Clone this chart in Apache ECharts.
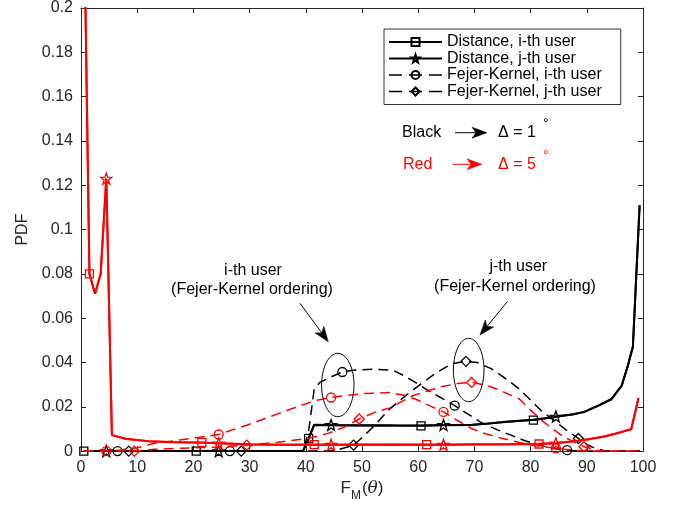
<!DOCTYPE html>
<html>
<head>
<meta charset="utf-8">
<script src="https://cdn.jsdelivr.net/npm/echarts@6/dist/echarts.min.js"></script>
<style>html,body{margin:0;padding:0;background:#fff}#c{width:681px;height:507px}</style>
</head>
<body>
<div id="c"></div>
<script>
// ---- data (x = F_M(theta), y = PDF) ----
const distI_black = [[0.5,0],[4.5,0],[20.5,0],[24.5,0],[39.5,0],[40.5,0.0057],[41.5,0.0118],[44.5,0.0117],[48,0.0116],[52,0.0117],[56,0.0115],[60.5,0.0114],[64.5,0.0117],[69.5,0.0118],[72.5,0.0124],[75.5,0.0132],[78.5,0.0137],[80.5,0.014],[82.5,0.0147],[84.5,0.0155],[87.5,0.0166],[89.5,0.0176],[92,0.0204],[94.4,0.0234],[96.2,0.0294],[97.3,0.0384],[98.2,0.047],[99.4,0.111]];
const distJ_black = [[0.5,0],[4.5,0],[20.5,0],[24.5,0],[39.5,0],[40.5,0.0057],[41.5,0.0119],[44.5,0.0118],[48,0.0117],[52,0.0116],[56,0.0116],[60.5,0.0115],[64.5,0.0118],[69.5,0.0119],[72.5,0.0125],[75.5,0.0131],[78.5,0.0138],[80.5,0.0141],[82.5,0.0148],[84.5,0.0156],[87.5,0.0165],[89.5,0.0177],[92,0.0205],[94.4,0.0236],[96.2,0.0296],[97.3,0.0386],[98.2,0.0472],[99.4,0.111]];
const fejI_black = [[0.5,0],[6.5,0],[26.5,0],[39.5,0],[40.5,0.009],[41.5,0.028],[42.5,0.031],[44.5,0.0335],[46.5,0.0357],[48.5,0.0365],[52,0.037],[55.5,0.0365],[57.5,0.034],[59.5,0.031],[62,0.027],[64.5,0.0235],[66.5,0.0205],[69,0.0165],[71,0.0132],[74,0.0097],[76.5,0.0072],[79,0.0047],[81.5,0.0027],[84,0.0012],[86.5,0.0004],[88.5,0],[99.5,0]];
const fejJ_black = [[0.5,0],[8.5,0],[28.5,0],[44,0],[46,0.0008],[48.5,0.0027],[50,0.006],[52,0.011],[55,0.0192],[58,0.0255],[60.5,0.0303],[63,0.035],[66,0.0395],[68.5,0.0405],[70.5,0.04],[73,0.0372],[76,0.032],[78,0.028],[80,0.023],[82,0.018],[84.5,0.0132],[86.5,0.0092],[88.5,0.0057],[90,0.003],[91.5,0.0012],[93,0.0003],[95,0],[99.5,0]];
const distI_red = [[0.5,0.25],[1.5,0.08],[2.5,0.071],[3.5,0.08],[4.5,0.123],[5.5,0.0072],[8,0.0055],[12,0.0045],[16,0.004],[21.5,0.0039],[24.5,0.0035],[30,0.003],[35,0.0029],[41.5,0.0029],[44.5,0.0029],[50,0.0029],[55,0.003],[61.5,0.0029],[64.5,0.0029],[70,0.003],[75,0.003],[81.5,0.0032],[84.5,0.0035],[88,0.0045],[90.5,0.0055],[93,0.0065],[95,0.0077],[97.9,0.0099],[99.2,0.024]];
const distJ_red = [[0.5,0.25],[1.5,0.08],[2.5,0.071],[3.5,0.08],[4.5,0.123],[5.5,0.0072],[8,0.0056],[12,0.0045],[16,0.0041],[21.5,0.0038],[24.5,0.0035],[30,0.0031],[35,0.0029],[41.5,0.003],[44.5,0.0029],[50,0.003],[55,0.0029],[61.5,0.003],[64.5,0.0029],[70,0.0031],[75,0.0031],[81.5,0.0033],[84.5,0.0035],[88,0.0046],[90.5,0.0054],[93,0.0066],[95,0.0078],[97.9,0.0099],[99.2,0.024]];
const fejI_red = [[0.5,0],[4.5,0],[7,0.0005],[10,0.0015],[13,0.0035],[17.5,0.005],[21,0.0062],[24.5,0.0075],[29.5,0.0117],[35,0.0168],[39,0.0205],[42,0.023],[44.5,0.0242],[47.5,0.0252],[50.5,0.026],[55,0.0264],[57.5,0.0252],[59.5,0.0235],[62,0.0205],[64.5,0.0177],[67,0.0138],[69.5,0.0102],[72,0.0078],[75,0.0057],[80,0.0027],[84.5,0.0012],[88,0.0003],[90,0],[99.5,0]];
const fejJ_red = [[0.5,0],[9.5,0],[13,0.0008],[18,0.0013],[24,0.0018],[29.5,0.0027],[35,0.004],[40.5,0.0058],[44,0.008],[47,0.011],[49.5,0.0145],[52.5,0.0177],[55,0.0195],[59,0.025],[64,0.029],[67,0.0305],[69.5,0.031],[72,0.0298],[74,0.028],[78,0.0235],[80,0.0185],[82.3,0.0132],[85.8,0.0065],[89.5,0.002],[92,0.0003],[94,0],[99.5,0]];
// marker positions (x)
const sqX_black = [0.5,20.5,40.5,60.5,80.5];
const starX_black = [4.5,24.5,44.5,64.5,84.5];
const circX_black = [6.5,26.5,46.5,66.5,86.5];
const diaX_black = [8.5,28.5,48.5,68.5,88.5];
const sqX_red = [1.5,21.5,41.5,61.5,81.5];
const starX_red = [4.5,24.5,44.5,64.5,84.5];
const circX_red = [4.5,24.5,44.5,64.5,84.5];
const diaX_red = [9.5,29.5,49.5,69.5,89.5];
const xTicks = [0,10,20,30,40,50,60,70,80,90,100];
const yTicks = [0,0.02,0.04,0.06,0.08,0.1,0.12,0.14,0.16,0.18,0.2];
const legendNames = ['Distance, i-th user','Distance, j-th user','Fejer-Kernel, i-th user','Fejer-Kernel, j-th user'];

const FONT = '"Liberation Sans", Arial, Helvetica, sans-serif';
const STAR = 'path://M0,-10L2.35,-3.24L9.51,-3.09L3.8,1.24L5.88,8.09L0,4L-5.88,8.09L-3.8,1.24L-9.51,-3.09L-2.35,-3.24Z';

function mk(points, marks, sym) {
  return points.map(p => ({ value: p, symbol: marks.indexOf(p[0]) >= 0 ? sym : 'none' }));
}
function ser(name, pts, marks, sym, size, color, dashed, z) {
  return {
    name: name, type: 'line', data: mk(pts, marks, sym), symbol: sym, symbolSize: size,
    showAllSymbol: true, xAxisIndex: 0, yAxisIndex: 0, z: z,
    lineStyle: { color: color, width: dashed ? 1.5 : 2, type: dashed ? [10, 6] : 'solid' },
    itemStyle: { color: 'rgba(255,255,255,0)', borderColor: color, borderWidth: 1.3 },
    emphasis: { disabled: true }, animation: false
  };
}

const chart = echarts.init(document.getElementById('c'), null, { renderer: 'canvas' });

function arrow(x1, y1, x2, y2, color) {
  const dx = x2 - x1, dy = y2 - y1, len = Math.hypot(dx, dy);
  const ux = dx / len, uy = dy / len, px = -uy, py = ux;
  const L = 15, W = 5.5, N = 4;
  const bx = x2 - L * ux, by = y2 - L * uy;
  const nx = x2 - (L - N) * ux, ny = y2 - (L - N) * uy;
  return [
    { type: 'line', shape: { x1: x1, y1: y1, x2: nx, y2: ny }, style: { stroke: color, lineWidth: 1 }, z: 100 },
    { type: 'polygon', shape: { points: [[x2, y2], [bx + W * px, by + W * py], [nx, ny], [bx - W * px, by - W * py]] }, style: { fill: color, stroke: color, lineWidth: 0.5 }, z: 100 }
  ];
}
function ellipse(cx, cy, rx, ry) {
  const pts = [];
  for (let i = 0; i < 72; i++) { const a = i / 72 * Math.PI * 2; pts.push([cx + rx * Math.cos(a), cy + ry * Math.sin(a)]); }
  return { type: 'polygon', shape: { points: pts }, style: { fill: 'none', stroke: '#000', lineWidth: 1 }, z: 100 };
}
function txt(x, y, s, size, color, align) {
  return { type: 'text', x: x, y: y, z: 100,
    style: { text: s, fill: color, font: size + 'px ' + FONT, fontSize: size, fontFamily: FONT,
      textAlign: align || 'left', align: align || 'left', textVerticalAlign: 'middle', verticalAlign: 'middle' } };
}

const graphics = [].concat(
  [txt(402, 132.7, 'Black', 16, '#000'), txt(498, 132.7, 'Δ = 1', 16, '#000'), txt(543, 124, '°', 14, '#000')],
  arrow(455, 132.7, 487, 132.7, '#000'),
  [txt(403, 164.3, 'Red', 16, '#ff0000'), txt(498, 164.3, 'Δ = 5', 16, '#ff0000'), txt(543, 155.7, '°', 14, '#ff0000')],
  arrow(452.7, 164.3, 482, 164.3, '#ff0000'),
  [txt(253, 270.7, 'i-th user', 16, '#000', 'center'), txt(252, 290, '(Fejer-Kernel ordering)', 16, '#000', 'center')],
  arrow(300, 303.3, 328.3, 341.7, '#000'),
  [txt(518.3, 266.7, 'j-th user', 16, '#000', 'center'), txt(515, 286.7, '(Fejer-Kernel ordering)', 16, '#000', 'center')],
  arrow(507.3, 301.7, 480, 335, '#000'),
  [ellipse(337.8, 385, 16.2, 31.7), ellipse(468.7, 370, 15.3, 31.7)]
);

const axisCol = '#262626';
const legendDash = { type: [13, 7], width: 1.5, color: '#000' };
const option = {
  animation: false,
  backgroundColor: '#fff',
  textStyle: { fontFamily: FONT },
  grid: { left: 81, right: 38, top: 8, bottom: 54, containLabel: false },
  legend: {
    data: [
      { name: legendNames[0] }, { name: legendNames[1] },
      { name: legendNames[2], lineStyle: legendDash }, { name: legendNames[3], lineStyle: legendDash }
    ],
    orient: 'vertical', left: 384, top: 29,
    itemWidth: 53, itemHeight: 10, itemGap: 0.5,
    padding: [5, 19, 5, 4], backgroundColor: '#fff', borderColor: '#000', borderWidth: 0.8,
    textStyle: { fontSize: 16, color: '#000', fontFamily: FONT, lineHeight: 16 },
    selectedMode: false
  },
  xAxis: [
    { type: 'value', min: 0, max: 100, interval: 10, position: 'bottom',
      axisLine: { show: true, onZero: false, lineStyle: { color: axisCol, width: 1 } },
      axisTick: { show: true, inside: true, length: 5, lineStyle: { color: axisCol } },
      axisLabel: { fontSize: 16, color: axisCol, margin: 8, fontFamily: FONT, formatter: v => String(v) },
      splitLine: { show: false },
      name: '{a|F}{b|M}{a|(}{c|θ}{a|)}', nameLocation: 'middle', nameGap: 28,
      nameTextStyle: { color: axisCol, fontFamily: FONT,
        rich: { a: { fontSize: 17, color: axisCol, fontFamily: FONT, lineHeight: 20, verticalAlign: 'top' },
                b: { fontSize: 12, color: axisCol, fontFamily: FONT, lineHeight: 12, padding: [10, 1, 0, 0], verticalAlign: 'top' },
                c: { fontSize: 17, color: axisCol, fontFamily: '"DejaVu Serif", serif', fontStyle: 'italic', lineHeight: 20, verticalAlign: 'top' } } }
    },
    { type: 'value', min: 0, max: 100, interval: 10, position: 'top',
      axisLine: { show: true, onZero: false, lineStyle: { color: axisCol, width: 1 } },
      axisTick: { show: true, inside: true, length: 5, lineStyle: { color: axisCol } },
      axisLabel: { show: false }, splitLine: { show: false } }
  ],
  yAxis: [
    { type: 'value', min: 0, max: 0.2, interval: 0.02, position: 'left',
      axisLine: { show: true, onZero: false, lineStyle: { color: axisCol, width: 1 } },
      axisTick: { show: true, inside: true, length: 5, lineStyle: { color: axisCol } },
      axisLabel: { fontSize: 16, color: axisCol, margin: 8, fontFamily: FONT, formatter: v => String(+v.toFixed(2)) },
      splitLine: { show: false },
      name: 'PDF', nameLocation: 'middle', nameGap: 42, nameRotate: 90,
      nameTextStyle: { fontSize: 16, color: axisCol, fontFamily: FONT }
    },
    { type: 'value', min: 0, max: 0.2, interval: 0.02, position: 'right',
      axisLine: { show: true, onZero: false, lineStyle: { color: axisCol, width: 1 } },
      axisTick: { show: true, inside: true, length: 5, lineStyle: { color: axisCol } },
      axisLabel: { show: false }, splitLine: { show: false } }
  ],
  series: [
    ser(legendNames[0], distI_black, sqX_black, 'rect', 8, '#000', false, 2),
    ser(legendNames[1], distJ_black, starX_black, STAR, 11, '#000', false, 2),
    ser(legendNames[2], fejI_black, circX_black, 'circle', 9, '#000', true, 2),
    ser(legendNames[3], fejJ_black, diaX_black, 'diamond', 10, '#000', true, 2),
    ser('Distance, i-th user (Δ=5°)', distI_red, sqX_red, 'rect', 8, '#ff0000', false, 3),
    ser('Distance, j-th user (Δ=5°)', distJ_red, starX_red, STAR, 11, '#ff0000', false, 3),
    ser('Fejer-Kernel, i-th user (Δ=5°)', fejI_red, circX_red, 'circle', 9, '#ff0000', true, 3),
    ser('Fejer-Kernel, j-th user (Δ=5°)', fejJ_red, diaX_red, 'diamond', 10, '#ff0000', true, 3)
  ],
  graphic: { elements: graphics }
};
chart.setOption(option);
</script>
</body>
</html>
